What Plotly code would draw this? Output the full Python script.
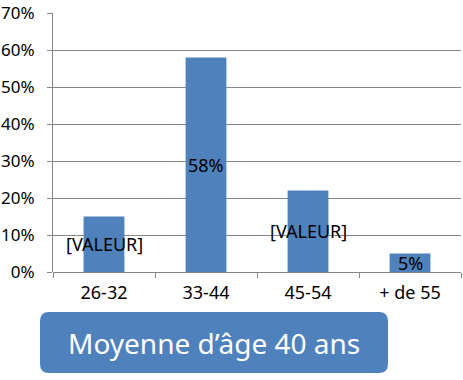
import plotly.graph_objects as go

categories = ["26-32", "33-44", "45-54", "+ de 55"]
values = [0.15, 0.58, 0.22, 0.05]
labels = ["[VALEUR]", "58%", "[VALEUR]", "5%"]
y_ticks = [0, 0.1, 0.2, 0.3, 0.4, 0.5, 0.6, 0.7]
y_tick_text = ["0%", "10%", "20%", "30%", "40%", "50%", "60%", "70%"]
box_text = "Moyenne d’âge 40 ans"

BLUE = "#4F81BD"
GRID = "#868686"
FONT = "Noto Sans"

fig = go.Figure()
fig.add_trace(go.Bar(x=categories, y=values, marker=dict(color=BLUE, line=dict(width=0)),
                     width=0.4, hoverinfo="skip"))

for c, v, t in zip(categories, values, labels):
    fig.add_annotation(x=c, y=v / 2, xref="x", yref="y", text=t, showarrow=False,
                       xanchor="center", yanchor="middle",
                       font=dict(family=FONT, size=18, color="#000000"))

# rounded box (paper coords)
W, H = 463, 380
ml, mr, mt, mb = 53, 2, 13, 108
pw, ph = W - ml - mr, H - mt - mb

def px(x):
    return (x - ml) / pw

def py(y):
    return (H - mb - y) / ph

x0, x1, y0, y1, r = 40, 388, 312, 373, 9
path = (f"M {px(x0 + r)},{py(y0)} L {px(x1 - r)},{py(y0)} Q {px(x1)},{py(y0)} {px(x1)},{py(y0 + r)} "
        f"L {px(x1)},{py(y1 - r)} Q {px(x1)},{py(y1)} {px(x1 - r)},{py(y1)} "
        f"L {px(x0 + r)},{py(y1)} Q {px(x0)},{py(y1)} {px(x0)},{py(y1 - r)} "
        f"L {px(x0)},{py(y0 + r)} Q {px(x0)},{py(y0)} {px(x0 + r)},{py(y0)} Z")
fig.add_shape(type="path", path=path, xref="paper", yref="paper",
              fillcolor=BLUE, line=dict(width=0), layer="above")
fig.add_annotation(x=px((x0 + x1) / 2), y=py((y0 + y1) / 2), xref="paper", yref="paper",
                   xanchor="center", yanchor="middle",
                   text=box_text, showarrow=False,
                   font=dict(family=FONT, size=28, color="#FFFFFF"))

fig.update_layout(
    width=W, height=H,
    margin=dict(l=ml, r=mr, t=mt, b=mb, pad=0),
    paper_bgcolor="#FFFFFF", plot_bgcolor="#FFFFFF",
    showlegend=False,
    font=dict(family=FONT, size=18, color="#000000"),
    xaxis=dict(showgrid=False, showline=False, ticks="outside", tickson="boundaries",
               ticklen=5, tickcolor=GRID, tickwidth=1, automargin=False,
               tickfont=dict(family=FONT, size=18, color="#000000"), ticklabelstandoff=8),
    yaxis=dict(range=[0, 0.7], tickvals=y_ticks, ticktext=y_tick_text, showgrid=True,
               gridcolor=GRID, gridwidth=1, showline=True, linecolor=GRID, linewidth=1,
               ticks="outside", ticklen=5, tickcolor=GRID, zeroline=True, zerolinecolor=GRID,
               zerolinewidth=1, tickfont=dict(family=FONT, size=17, color="#000000"),
               ticklabelstandoff=9, automargin=False),
)

fig.write_html("out.html", config={"displayModeBar": False},
               post_script="document.body.style.margin='0';document.body.style.overflow='hidden';")
